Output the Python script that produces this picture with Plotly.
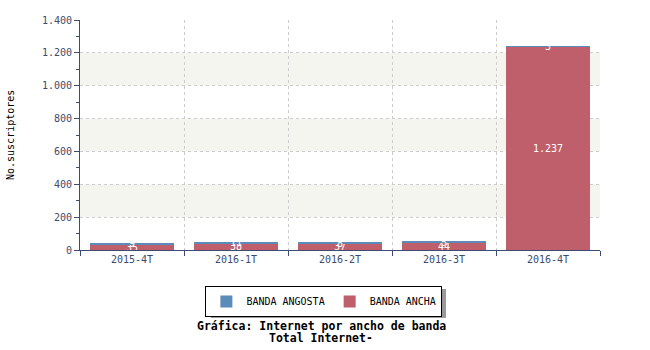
import plotly.graph_objects as go

categories = ["2015-4T", "2016-1T", "2016-2T", "2016-3T", "2016-4T"]
banda_ancha = [35, 38, 37, 44, 1237]
banda_angosta = [9, 11, 8, 5, 3]
y_ticks = [0, 200, 400, 600, 800, 1000, 1200, 1400]

navy = "#3d4b70"
mono = "DejaVu Sans Mono"


def fmt(v):
    return f"{v:,}".replace(",", ".")


fig = go.Figure()
fig.add_trace(go.Bar(
    x=categories, y=banda_ancha, name="BANDA ANCHA",
    marker=dict(color="#be5f6b", line=dict(width=0)),
    text=[fmt(v) for v in banda_ancha],
    textposition="inside", insidetextanchor="middle", constraintext="none",
    textfont=dict(family=mono, size=10, color="white"), textangle=0,
))
fig.add_trace(go.Bar(
    x=categories, y=banda_angosta, name="BANDA ANGOSTA",
    marker=dict(color="#5b8bb8", line=dict(width=0)),
    text=[fmt(v) for v in banda_angosta],
    textposition="inside", insidetextanchor="middle", constraintext="none",
    textfont=dict(family=mono, size=10, color="white"), textangle=0,
))


def py(pix):
    return (250 - pix) / 230


def px(pix):
    return (pix - 80) / 520


shapes = []
for lo in [200, 600, 1000]:
    shapes.append(dict(type="rect", xref="paper", yref="y", x0=0, x1=1,
                       y0=lo, y1=lo + 200, fillcolor="#f5f5f0",
                       line=dict(width=0), layer="below"))
# legend shadow
shapes.append(dict(type="rect", xref="paper", yref="paper",
                   x0=px(211), x1=px(446), y0=py(318), y1=py(289),
                   fillcolor="#9a9a9a", line=dict(width=0), layer="below"))

fig.update_layout(
    width=650, height=350,
    margin=dict(l=80, r=50, t=20, b=100, autoexpand=False),
    barmode="stack", bargap=0.2,
    plot_bgcolor="white", paper_bgcolor="white",
    separators=",.",
    font=dict(family=mono, size=10, color=navy),
    showlegend=True,
    legend=dict(orientation="h", x=0.469, xanchor="center", y=py(286), yanchor="top",
                traceorder="reversed", bgcolor="white", bordercolor="black", borderwidth=1,
                font=dict(family=mono, size=10, color="black"),
                itemwidth=30),
    shapes=shapes,
    annotations=[
        dict(text="<b>Gráfica: Internet por ancho de banda</b>",
             xref="paper", yref="paper", x=px(321), y=py(326),
             xanchor="center", yanchor="middle", showarrow=False,
             font=dict(family=mono, size=11.5, color="black")),
        dict(text="<b>Total Internet-</b>",
             xref="paper", yref="paper", x=px(321), y=py(338),
             xanchor="center", yanchor="middle", showarrow=False,
             font=dict(family=mono, size=11.5, color="black")),
        dict(text="No.suscriptores", textangle=-90,
             xref="paper", yref="paper", x=px(10), y=py(135),
             xanchor="center", yanchor="middle", showarrow=False,
             font=dict(family=mono, size=10, color="black")),
    ],
)
fig.update_xaxes(
    type="category", tickson="boundaries", showline=True, linecolor=navy, linewidth=1,
    ticks="outside", ticklen=5, tickcolor=navy, automargin=False,
    showgrid=True, gridcolor="#cccccc", griddash="3px,3px", gridwidth=1,
    tickfont=dict(family=mono, size=10, color=navy),
)
fig.update_yaxes(
    range=[0, 1400], tickvals=y_ticks, ticktext=[fmt(v) for v in y_ticks],
    showline=True, linecolor=navy, linewidth=1, automargin=False,
    ticks="outside", ticklen=5, tickcolor=navy,
    minor=dict(dtick=100, ticks="outside", ticklen=3, tickcolor=navy, showgrid=False),
    showgrid=True, gridcolor="#cccccc", griddash="3px,3px", gridwidth=1, zeroline=False,
    tickfont=dict(family=mono, size=10, color=navy),
)
fig.write_html("out.html")
